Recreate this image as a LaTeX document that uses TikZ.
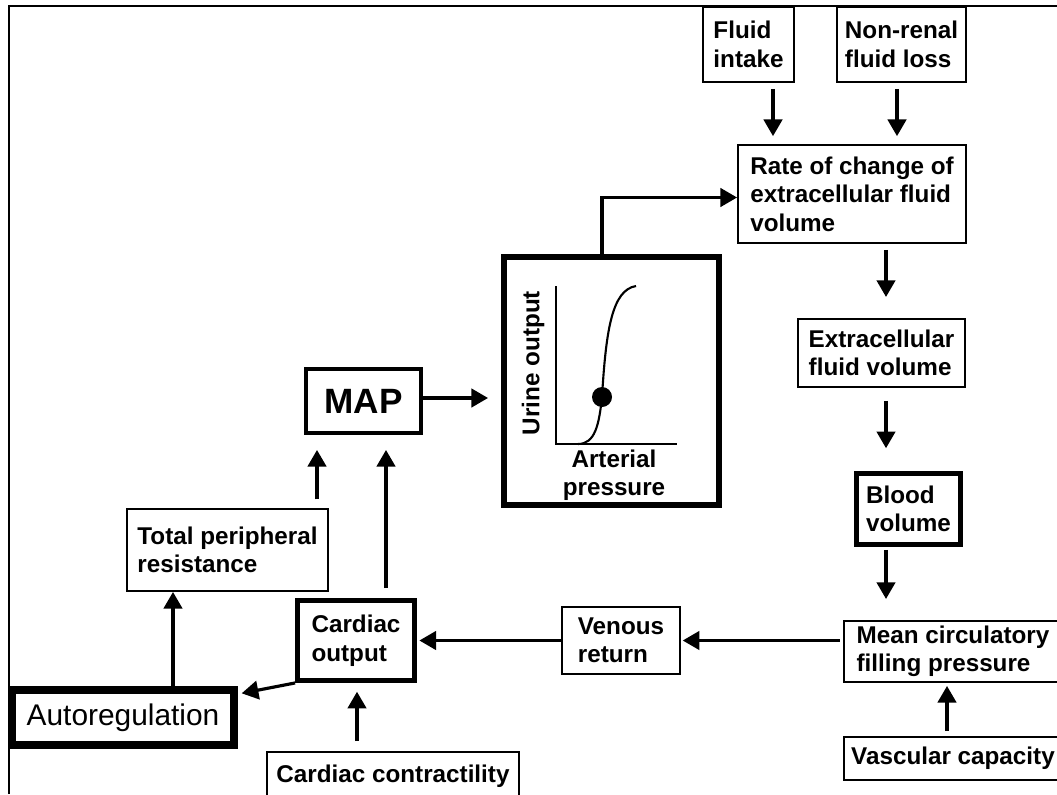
\documentclass[tikz,border=0pt]{standalone}
\usepackage{fontspec}
\setmainfont{Liberation Sans}
\usetikzlibrary{arrows.meta}

\begin{document}
\begin{tikzpicture}[x=0.02cm,y=-0.02cm,
  box/.style={draw,line width=1.1pt,inner sep=0pt,align=left,font=\fontsize{13.8}{16.2}\selectfont\bfseries},
  thickbox/.style={box,line width=2.8pt},
  lbl/.style={inner sep=0pt,font=\fontsize{13.8}{16.2}\selectfont\bfseries},
  arr/.style={line width=1.8pt,-{Triangle[length=9.5pt,width=10.5pt]}}]
\useasboundingbox (0,0) rectangle (1057,794);
\draw[line width=1.1pt] (9,794) -- (9,6) -- (1057,6);
% boxes
\node[box,minimum width=1.82cm,minimum height=1.5cm] (intake) at (748.5,44.5) {Fluid\\intake};
\node[box,minimum width=2.58cm,minimum height=1.5cm] (loss) at (901.5,44.5) {Non-renal\\fluid loss};
\node[box,minimum width=4.56cm,minimum height=1.96cm] (rate) at (852,194) {Rate of change of\\extracellular fluid\\volume};
\node[box,minimum width=3.34cm,minimum height=1.36cm] (ecf) at (881.5,353) {Extracellular\\fluid volume};
\node[thickbox,minimum width=2.08cm,minimum height=1.42cm] (blood) at (908.5,509) {Blood\\volume};
\node[box,minimum width=4.36cm,minimum height=1.22cm] (mcfp) at (953,651.5) {Mean circulatory\\filling pressure};
\node[box,minimum width=4.36cm,minimum height=0.86cm] (vasc) at (953,758.5) {Vascular capacity};
\node[box,minimum width=2.36cm,minimum height=1.34cm] (venous) at (621,640.5) {Venous\\return};
\node[thickbox,minimum width=2.34cm,minimum height=1.6cm] (co) at (356,640.5) {Cardiac\\output};
\node[box,minimum width=5.04cm,minimum height=0.96cm] (contr) at (393,776) {Cardiac contractility};
\node[box,line width=4.2pt,minimum width=4.44cm,minimum height=1.1cm,font=\fontsize{17}{20}\selectfont] (auto) at (123,717.5) {Autoregulation};
\node[box,minimum width=4.02cm,minimum height=1.64cm] (tpr) at (227.5,550) {Total peripheral\\resistance};
\node[box,line width=2.3pt,minimum width=2.3cm,minimum height=1.28cm,font=\fontsize{20}{24}\selectfont\bfseries] (map) at (363.5,401) {MAP};
\node[box,line width=3.4pt,minimum width=4.3cm,minimum height=4.96cm] (urine) at (611.5,381) {};
% renal function curve
\draw[line width=1.1pt] (556,286) -- (556,444) -- (677,444);
\draw[line width=1.2pt] (578,444) .. controls (595,444) and (599,425) .. (602,397)
  .. controls (606,330) and (612,290) .. (636,286);
\fill (602,397) circle (0.2cm);
\node[lbl,rotate=90] (uout) at (533,363) {Urine output};
\node[lbl,align=center] (apres) at (614,475) {Arterial\\pressure};
% columns and rows of the connectors
\coordinate (colI) at (773,0);
\coordinate (colL) at (897,0);
\coordinate (colR) at (886,0);
\coordinate (colV) at (947,0);
\coordinate (colC) at (357,0);
\coordinate (colA) at (173,0);
\coordinate (colT) at (317,0);
\coordinate (colM) at (386,0);
\coordinate (rowM) at (0,398);
% connectors
\draw[arr,shorten <=3.4pt,shorten >=4.5pt] (intake.south -| colI) -- (rate.north -| colI);
\draw[arr,shorten <=3.4pt,shorten >=4.5pt] (loss.south -| colL) -- (rate.north -| colL);
\draw[arr] ([xshift=-0.19cm]urine.north) |- ([yshift=-0.07cm]rate.west);
\draw[arr,shorten <=3.4pt,shorten >=12pt] (rate.south -| colR) -- (ecf.north -| colR);
\draw[arr,shorten <=7.4pt,shorten >=13pt] (ecf.south -| colR) -- (blood.north -| colR);
\draw[arr,shorten <=1.7pt,shorten >=12pt] (blood.south -| colR) -- (mcfp.north -| colR);
\draw[arr,shorten <=2.8pt,shorten >=1.7pt] (vasc.north -| colV) -- (mcfp.south -| colV);
\draw[arr,shorten <=2pt,shorten >=1pt] (mcfp.west |- venous.east) -- (venous.east);
\draw[arr,shorten >=1.4pt] (venous.west) -- (co.east);
\draw[arr,shorten <=5.7pt,shorten >=5pt] (contr.north -| colC) -- (co.south -| colC);
\draw[arr] (co.south west) -- ([xshift=0.08cm,yshift=-0.14cm]auto.north east);
\draw[arr] (auto.north -| colA) -- (tpr.south -| colA);
\draw[arr,shorten <=5pt,shorten >=8.5pt] (tpr.north -| colT) -- (map.south -| colT);
\draw[arr,shorten <=5.7pt,shorten >=8.5pt] (co.north -| colM) -- (map.south -| colM);
\draw[arr,shorten >=7.4pt] (map.east |- rowM) -- (urine.west |- rowM);
\end{tikzpicture}
\end{document}
